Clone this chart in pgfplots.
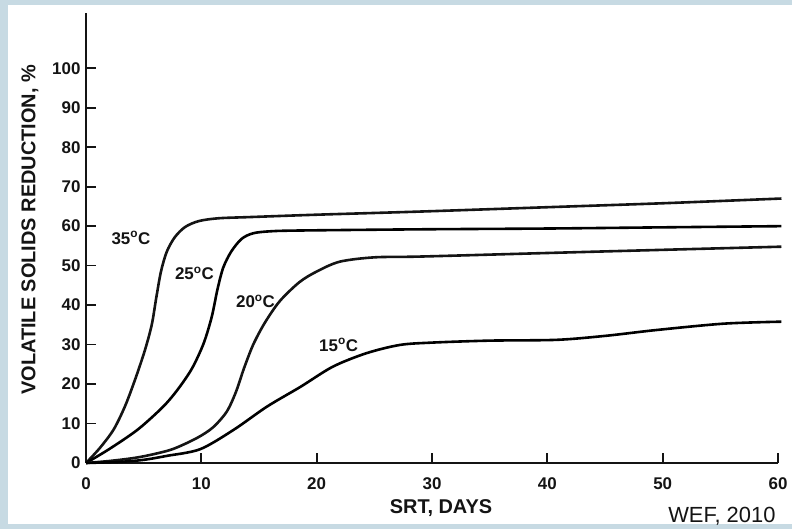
\documentclass[border=0pt]{standalone}
\usepackage{fontspec}
\setmainfont{Liberation Sans}
\usepackage{pgfplots}
\pgfplotsset{compat=1.18}
\definecolor{frameblue}{RGB}{199,218,227}
\definecolor{ink}{RGB}{20,20,20}

\begin{document}
\begin{tikzpicture}
  % page frame
  \fill[frameblue] (0,0) rectangle (792bp,529bp);
  \fill[white] (8bp,5bp) rectangle (792bp,524bp);

  \begin{axis}[
    at={(86bp,66bp)}, anchor=south west,
    scale only axis,
    width=692bp, height=450bp,
    xmin=0, xmax=60, ymin=0, ymax=114,
    axis lines=left,
    axis line style={-, line width=2.6bp, draw=ink},
    xtick={0,10,...,60},
    ytick={0,10,...,100},
    tick align=inside,
    tick style={ink, line width=1.7bp},
    major tick length=10bp,
    /pgf/number format/assume math mode=true,
    ticklabel style={font=\bfseries\fontsize{17}{19}\selectfont, text=ink},
    xticklabel style={yshift=-11bp},
    yticklabel style={xshift=-2bp},
    xlabel={SRT, DAYS},
    ylabel={VOLATILE SOLIDS REDUCTION, \%},
    label style={font=\bfseries\fontsize{20}{22}\selectfont, text=ink},
    xlabel style={at={(axis description cs:0.513,-0.1)}, anchor=center},
    ylabel style={at={(axis description cs:-0.081,0.518)}, anchor=center},
    clip=false,
    cycle list={{draw=ink, mark=none}},
    every axis plot post/.append style={line width=2.6bp, smooth, tension=0.5},
  ]
    % 35 C
    \addplot coordinates {(0,0) (1.2,3.8) (2.4,8.5) (3.4,14.5) (4.3,21.5)
      (5.1,28.5) (5.7,35) (6.1,42) (6.5,48.5) (7.0,53.5) (7.7,57.2) (8.6,59.8)
      (9.8,61.3) (11.5,62) (14.2,62.3) (20,62.9) (29,63.7) (40,64.8) (50,65.8)
      (60.3,67)};
    % 25 C
    \addplot coordinates {(0,0) (2,3.5) (4.5,8.5) (6.7,14.3) (8,18.8) (9.2,24)
      (10.2,30.3) (10.9,37) (11.4,44) (11.9,49.5) (12.6,53.6) (13.5,56.8)
      (14.5,58.2) (16,58.7) (18.6,58.9) (29,59.2) (40,59.4) (50,59.7) (60.3,60)};
    % 20 C
    \addplot coordinates {(0,0) (2,0.5) (4,1.2) (5.5,2) (7.5,3.5) (9.6,6.3)
      (11,9) (12.2,13) (13,18) (13.7,24) (14.5,30) (15.5,35.5) (16.8,41)
      (18.5,45.8) (20,48.5) (22,51) (25,52.1) (29,52.3) (40,53.2) (50,54) (60.3,54.8)};
    % 15 C
    \addplot coordinates {(0,0) (3,0.3) (5,0.8) (7,1.8) (9.9,3.5) (12.8,8.4)
      (15.7,14.3) (18.6,19.3) (21.4,24.4) (24.3,27.8) (27.2,29.9) (30,30.5)
      (35,31) (40.8,31.2) (45,32.2) (49.5,33.7) (55.3,35.3) (60.3,35.8)};

    \begin{scope}[font=\bfseries\fontsize{17}{19}\selectfont, text=ink]
      \node at (axis cs:3.9,57) {35\textsuperscript{o}C};
      \node at (axis cs:9.4,48.1) {25\textsuperscript{o}C};
      \node at (axis cs:14.7,41) {20\textsuperscript{o}C};
      \node at (axis cs:21.9,29.9) {15\textsuperscript{o}C};
    \end{scope}
  \end{axis}

  \node[anchor=base east, font=\fontsize{22}{24}\selectfont, text=ink]
    at (779bp,7bp) {WEF, 2010};

  \pgfresetboundingbox
  \path[use as bounding box] (0,0) rectangle (792bp,529bp);
\end{tikzpicture}
\end{document}
